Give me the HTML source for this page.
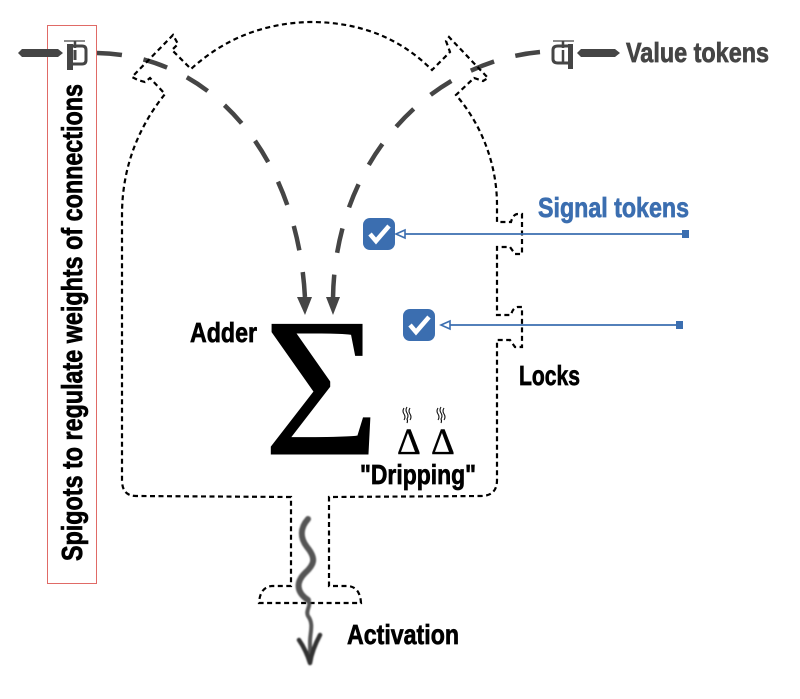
<!DOCTYPE html>
<html><head><meta charset="utf-8"><style>
html,body{margin:0;padding:0;background:#fff;width:800px;height:699px;overflow:hidden}
svg{display:block}
text{font-family:"Liberation Sans Narrow","Liberation Sans",sans-serif;font-weight:700}
.l{stroke-width:.7}
</style></head><body>
<svg width="800" height="699" viewBox="0 0 800 699" xmlns="http://www.w3.org/2000/svg">
<defs>
<filter id="b" x="-5%" y="-5%" width="110%" height="110%"><feGaussianBlur stdDeviation="0.35"/></filter>
<filter id="b2" x="-30%" y="-5%" width="160%" height="110%"><feGaussianBlur stdDeviation="0.8"/></filter>
</defs>
<g filter="url(#b)">
<!-- dashed value connectors -->
<path d="M97,53 C215,55 298,160 305,298" fill="none" stroke="#444" stroke-width="4.5" stroke-dasharray="25 22"/>
<path d="M540,52 C430,62 335,160 333,298" fill="none" stroke="#444" stroke-width="4.5" stroke-dasharray="25 22"/>
<polygon points="297,297 312,297 305,315" fill="#444"/>
<polygon points="326,297 340,297 333,315" fill="#444"/>
<!-- outline -->
<path d="M291,497 L136,496 Q122,496 122,480 L122,215 C122,165 140,125 165,94 L150,78 L145,82 L138,80 L132,77 L173,35 L178,44 L172,50 L191,69 C225,38 265,23 310,22 C360,22 400,38 432,70 L450,52 L446,41 L449,37 L488,78 L483,81 L474,78 L456,95 C482,125 497,165 497,205 L497,222 L511,222 Q513,214 518,214 L522,214 L522,254 L515,254 L510,247 L497,247 L497,315 L511,315 Q513,307 518,307 L522,307 L522,347 L515,347 L510,340 L497,340 L497,480 Q497,496 481,496 L329,497 L329,586 L348,586 Q360,587 361,603 L259,603 Q260,587 272,586 L291,586 Z" fill="none" stroke="#000" stroke-width="2.2" stroke-dasharray="5 3.5"/>
<!-- red box -->
<rect x="47.5" y="25.5" width="49" height="558" fill="none" stroke="#e06a66" stroke-width="1"/>
<!-- left spigot -->
<path d="M18,53 L22,49 L58,49 L63,53 L58,57 L22,57 Z" fill="#444"/>
<g fill="none" stroke="#444">
<path d="M64,41 H85" stroke-width="1.2"/><path d="M75,41 V48" stroke-width="2.5"/>
<path d="M70,46 H82 Q86,46 86,50 V60 Q86,64 82,64 H70" stroke-width="3"/>
<path d="M75,50 V60" stroke-width="3"/>
</g>
<rect x="67" y="44" width="6" height="26" fill="#444"/>
<!-- right spigot -->
<path d="M577,53 L581,49 L615,49 L620,53 L615,57 L581,57 Z" fill="#444"/>
<g fill="none" stroke="#444">
<path d="M553,41 H574" stroke-width="1.2"/><path d="M563,41 V48" stroke-width="2.5"/>
<path d="M570,63 H558 Q553,63 553,59 V50 Q553,46 558,46 H570" stroke-width="3"/>
<path d="M563,50 V62" stroke-width="2.5"/>
</g>
<rect x="568" y="44" width="5" height="25" fill="#444"/>
<!-- checkboxes -->
<rect x="363" y="218" width="32" height="32" rx="7" fill="#3b6eb0"/>
<path d="M370,234 L376,241 L389,226" fill="none" stroke="#fff" stroke-width="4.5"/>
<rect x="403" y="309" width="32" height="32" rx="7" fill="#3b6eb0"/>
<path d="M410,325 L416,332 L429,317" fill="none" stroke="#fff" stroke-width="4.5"/>
<!-- signal lines -->
<path d="M405,234 H686" stroke="#3b6eb0" stroke-width="1.8"/>
<polygon points="396,234 405,230 405,238" fill="#fff" stroke="#3b6eb0" stroke-width="1.6"/>
<rect x="682" y="230" width="7" height="8" fill="#3b6eb0"/>
<path d="M450,325 H680" stroke="#3b6eb0" stroke-width="1.8"/>
<polygon points="441,325 450,321 450,329" fill="#fff" stroke="#3b6eb0" stroke-width="1.6"/>
<rect x="676" y="321" width="7" height="8" fill="#3b6eb0"/>
<!-- sigma and deltas -->
<text transform="translate(263.5,454) scale(1.01,1)" style="font-family:'Liberation Serif',serif;font-weight:400" font-size="198" fill="#000" stroke="#000" stroke-width="1">Σ</text>
<text x="397" y="454" style="font-family:'Liberation Serif',serif;font-weight:400" font-size="37" fill="#000" stroke="#000" stroke-width=".4">Δ</text>
<text x="431" y="454" style="font-family:'Liberation Serif',serif;font-weight:400" font-size="37" fill="#000" stroke="#000" stroke-width=".4">Δ</text>
<!-- steam -->
<g fill="none" stroke="#111" stroke-width="1.1">
<path d="M404,408 q-2,3 0,6 q2,3 0,6"/><path d="M407,407 q-2,3 0,6 q2,3 0,6 q1,2 0,4"/><path d="M410,408 q-2,3 0,6 q2,3 0,6"/>
<path d="M438,408 q-2,3 0,6 q2,3 0,6"/><path d="M441,407 q-2,3 0,6 q2,3 0,6 q1,2 0,4"/><path d="M444,408 q-2,3 0,6 q2,3 0,6"/>
</g>
<!-- labels -->
<text class="l" x="626" y="62" font-size="28" fill="#444" stroke="#444" textLength="143" lengthAdjust="spacingAndGlyphs">Value tokens</text>
<text class="l" x="538" y="217" font-size="28" fill="#3b6eb0" stroke="#3b6eb0" textLength="151" lengthAdjust="spacingAndGlyphs">Signal tokens</text>
<text class="l" x="519" y="385" font-size="28" fill="#000" stroke="#000" textLength="61" lengthAdjust="spacingAndGlyphs">Locks</text>
<text class="l" x="190" y="342" font-size="28" fill="#000" stroke="#000" textLength="67" lengthAdjust="spacingAndGlyphs">Adder</text>
<text class="l" x="360" y="484" font-size="28" fill="#000" stroke="#000" textLength="116" lengthAdjust="spacingAndGlyphs">"Dripping"</text>
<text class="l" x="347" y="644" font-size="28" fill="#000" stroke="#000" textLength="112" lengthAdjust="spacingAndGlyphs">Activation</text>
<text class="l" transform="translate(82,561) rotate(-90)" font-size="29" fill="#000" stroke="#000" textLength="477" lengthAdjust="spacingAndGlyphs">Spigots to regulate weights of connections</text>
</g>
<!-- activation squiggle -->
<g filter="url(#b2)" fill="none" stroke-linecap="round" stroke-linejoin="round">
<path d="M308,519 C300,528 300,538 307,547 C316,558 315,564 305,573 C296,582 296,592 308,600" stroke="#555" stroke-width="6"/>
<path d="M308,600 C312,606 305,610 308,616 C314,624 310,632 310,642 L310,662" stroke="#555" stroke-width="4"/>
<path d="M299,640 Q306,650 310,663 Q312,650 320,635" stroke="#333" stroke-width="4.5"/>
</g>
</svg>
</body></html>
